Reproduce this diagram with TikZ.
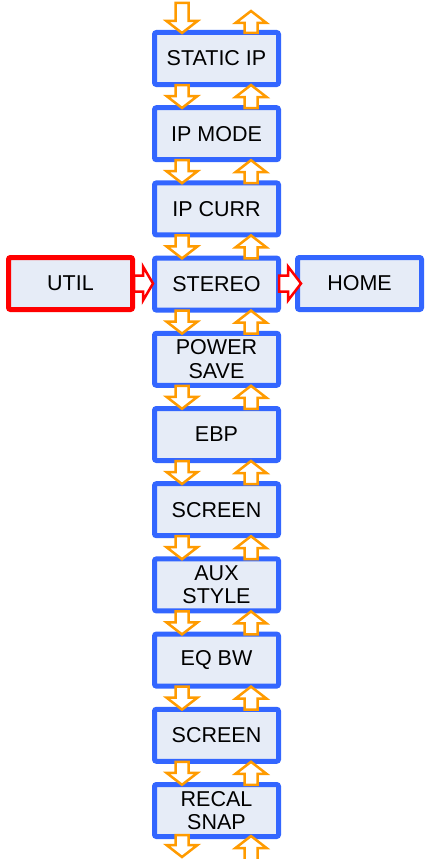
\documentclass[tikz,border=0pt]{standalone}
\usepackage{fontspec}
\setmainfont{Liberation Sans}
\definecolor{bblue}{RGB}{51,102,255}
\definecolor{bfill}{RGB}{230,236,247}
\definecolor{orng}{RGB}{255,155,0}
\definecolor{rred}{RGB}{255,0,0}
\newcommand\darr[3]{% x, tail y, tip y (downward)
  \pgfmathsetmacro\hb{#3-12}
  \draw[oarr] (#1-6.5,#2) -- (#1-6.5,\hb) -- (#1-15.5,\hb) -- (#1,#3) -- (#1+15.5,\hb) -- (#1+6.5,\hb) -- (#1+6.5,#2) -- cycle;}
\newcommand\uarr[3]{% x, tail y, tip y (upward)
  \pgfmathsetmacro\hb{#3+12}
  \draw[oarr] (#1-6.5,#2) -- (#1-6.5,\hb) -- (#1-15.5,\hb) -- (#1,#3) -- (#1+15.5,\hb) -- (#1+6.5,\hb) -- (#1+6.5,#2) -- cycle;}
\newcommand\rarr[4]{% tail x, head-base x, tip x, y
  \draw[rarrow] (#1,#4-8) -- (#2,#4-8) -- (#2,#4-17) -- (#3,#4) -- (#2,#4+17) -- (#2,#4+8) -- (#1,#4+8) -- cycle;}
\begin{document}
\begin{tikzpicture}[x=1pt,y=-1pt,
  box/.style={draw=bblue, line width=5pt, fill=bfill, rounded corners=2pt,
    minimum width=124pt, minimum height=52pt, inner sep=0pt, align=center,
    font=\fontsize{21.5}{23.5}\selectfont},
  redbox/.style={box, draw=rred},
  oarr/.style={draw=orng, fill=white, line width=2.5pt, line join=miter},
  rarrow/.style={draw=rred, fill=white, line width=2.5pt, line join=miter}]
\useasboundingbox (0,0) rectangle (425,859);
\foreach \n/\t [count=\k from 0] in {b0/STATIC IP, b1/IP MODE, b2/IP CURR, b3/STEREO,
  b4/POWER\\SAVE, b5/EBP, b6/SCREEN, b7/AUX\\STYLE, b8/EQ BW, b9/SCREEN, b10/RECAL\\SNAP}{
  \node[box] (\n) at (216.5, 58.5+75.2*\k) {\t};
}
\node[redbox] (util) at (70.5, 283.5) {UTIL};
\node[box] (home) at (359.5, 283.5) {HOME};
% top arrows
\darr{182}{3}{33}
\uarr{251}{33}{11}
% between boxes
\foreach \k in {0,...,9}{
  \pgfmathsetmacro\yb{30+75.2*\k+57}
  \pgfmathsetmacro\ya{\yb-2}
  \pgfmathsetmacro\yt{\yb+21}
  \darr{182}{\ya}{\yt}
  \uarr{251}{\yt}{\ya}
}
% bottom arrows
\darr{182}{835}{857}
\uarr{251}{861}{836}
% red arrows
\rarr{134}{143}{153}{283.5}
\rarr{279}{288}{301}{283.5}
\end{tikzpicture}
\end{document}
